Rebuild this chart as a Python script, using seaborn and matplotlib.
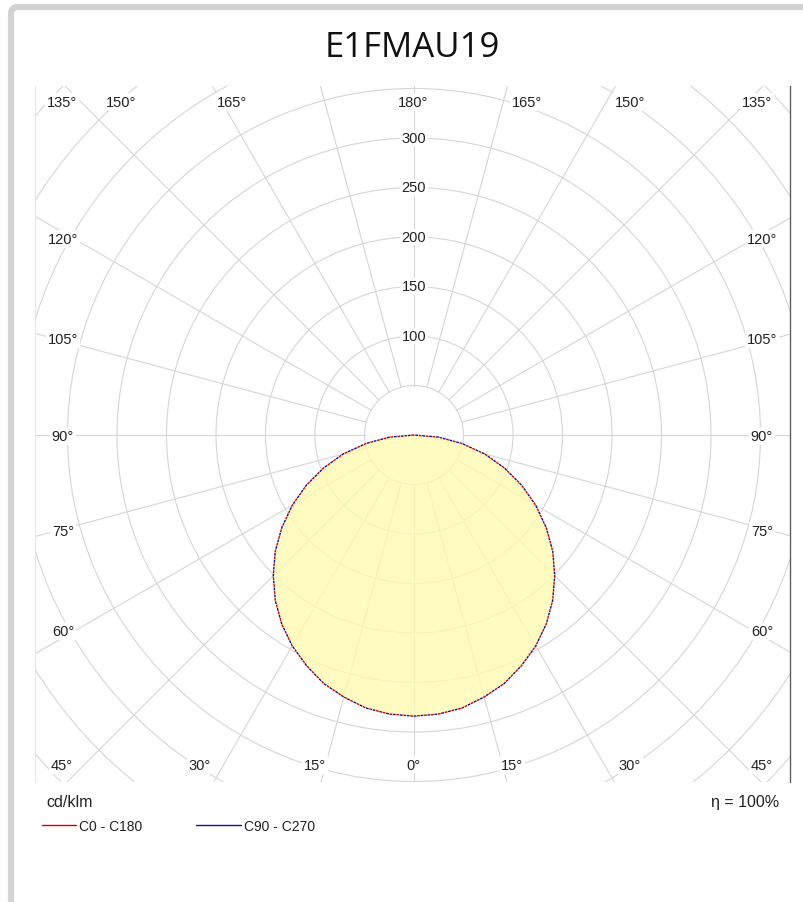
import numpy as np
import pandas as pd
import matplotlib
matplotlib.use("Agg")
import matplotlib.pyplot as plt
from matplotlib.patches import Circle, FancyBboxPatch
from matplotlib.lines import Line2D
import seaborn as sns

# ---------------- data ----------------
title = "E1FMAU19"
gamma_deg = [0, 5, 10, 15, 20, 25, 30, 35, 40, 45, 50, 55, 60, 65, 70, 75, 80, 85, 90]
c0_c180 = [284, 283, 280, 274, 267, 257, 246, 233, 218, 201, 183, 163, 142, 120, 97, 74, 49, 25, 0]
c90_c270 = [284, 283, 280, 274, 267, 257, 246, 233, 218, 201, 183, 163, 142, 120, 97, 74, 49, 25, 0]
ring_values = [50, 100, 150, 200, 250, 300, 350, 400, 450, 500, 550]
ring_labels = [100, 150, 200, 250, 300]
top_labels = ["135°", "150°", "165°", "180°", "165°", "150°", "135°"]
bottom_labels = ["45°", "30°", "15°", "0°", "15°", "30°", "45°"]
side_labels = ["120°", "105°", "90°", "75°", "60°"]
unit_label = "cd/klm"
eff_label = "η = 100%"
series_names = ["C0 - C180", "C90 - C270"]

# ---------------- layout ----------------
W, H = 804, 903
sns.set_theme(style="white")
plt.rcParams["font.family"] = ["Liberation Sans", "DejaVu Sans"]

fig = plt.figure(figsize=(W / 100, H / 100), dpi=100)
fig.patch.set_facecolor("white")

def fx(px):
    return px / W

def fy(py):
    return 1 - py / H

# card border (top and left grey bands)
card = FancyBboxPatch((fx(11), fy(960)), fx(900), fy(8) - fy(960),
                      boxstyle="round,pad=0,rounding_size=0.008",
                      transform=fig.transFigure, fill=False,
                      ec="#d3d3d3", lw=4.5, zorder=0)
fig.patches.append(card)

left_px, right_px, top_px, bottom_px = 35, 790, 87, 783
cx_px, cy_px = 414, 436
s = 0.99  # pixels per cd/klm
ax = fig.add_axes([fx(left_px), fy(bottom_px), (right_px - left_px) / W, (bottom_px - top_px) / H])
ax.set_xlim(-(cx_px - left_px) / s, (right_px - cx_px) / s)
ax.set_ylim(-(bottom_px - cy_px) / s, (cy_px - top_px) / s)
ax.set_xticks([])
ax.set_yticks([])
ax.set_facecolor("white")
for side in ["top", "bottom"]:
    ax.spines[side].set_visible(False)
ax.spines["left"].set_color("#e8e8e8")
ax.spines["left"].set_linewidth(0.8)
ax.spines["right"].set_color("#606060")
ax.spines["right"].set_linewidth(1.0)

gridc = "#d6d6d6"
for r in ring_values:
    ax.add_patch(Circle((0, 0), r, fill=False, ec=gridc, lw=0.8, zorder=1))
for a in range(0, 360, 15):
    t = np.deg2rad(a)
    ax.plot([50 * np.sin(t), 900 * np.sin(t)], [-50 * np.cos(t), -900 * np.cos(t)],
            color=gridc, lw=0.8, zorder=1)

# ---------------- distribution ----------------
g = np.deg2rad(np.array(gamma_deg, dtype=float))
rows = []
for name, vals in zip(series_names, [c0_c180, c90_c270]):
    v = np.array(vals, dtype=float)
    # left half (C180 / C270) then right half (C0 / C90)
    xs = np.concatenate([-(v * np.sin(g))[::-1], (v * np.sin(g))[1:]])
    ys = np.concatenate([-(v * np.cos(g))[::-1], -(v * np.cos(g))[1:]])
    for i, (xx, yy) in enumerate(zip(xs, ys)):
        rows.append({"series": name, "order": i, "x": xx, "y": yy})
df = pd.DataFrame(rows)

d0 = df[df.series == series_names[0]]
ax.fill(d0.x, d0.y, color=(1.0, 251 / 255, 178 / 255), alpha=0.8, lw=0, zorder=2)

sns.lineplot(data=d0, x="x", y="y", sort=False, estimator=None, ax=ax,
             color="#d40000", lw=1.0, dashes=False, zorder=3, legend=False)
ax.lines[-1].set_linestyle((0, (2, 3)))
d1 = df[df.series == series_names[1]]
sns.lineplot(data=d1, x="x", y="y", sort=False, estimator=None, ax=ax,
             color="#1010a0", lw=1.0, dashes=False, zorder=3, legend=False)
ax.lines[-1].set_linestyle((2.5, (2, 3)))
ax.set_xlabel("")
ax.set_ylabel("")

# radial value labels
for v in ring_labels:
    ax.text(0, v, str(v), ha="center", va="center", fontsize=10.5, color="#222222",
            bbox=dict(boxstyle="square,pad=0.1", fc="white", ec="none"), zorder=4)

# ---------------- angle labels ----------------
top_x = [62, 121, 232, 413, 527, 630, 757]
bot_x = [62, 200, 315, 413, 512, 630, 762]
side_y = [240, 340, 437, 532, 632]
lab_kw = dict(ha="center", va="center", fontsize=10.5, color="#222222",
              bbox=dict(boxstyle="square,pad=0.15", fc="white", ec="none"))
for t, x in zip(top_labels, top_x):
    fig.text(fx(x), fy(103), t, **lab_kw)
for t, x in zip(bottom_labels, bot_x):
    fig.text(fx(x), fy(766), t, **lab_kw)
for t, y in zip(side_labels, side_y):
    fig.text(fx(63), fy(y), t, **lab_kw)
    fig.text(fx(762), fy(y), t, **lab_kw)

# ---------------- title & footer ----------------
fig.text(fx(412), fy(48), title, ha="center", va="center", fontsize=25,
         family=["Open Sans", "DejaVu Sans"], color="#111111")
fig.text(fx(46), fy(803), unit_label, ha="left", va="center", fontsize=11.5, color="#222222")
fig.text(fx(779), fy(803), eff_label, ha="right", va="center", fontsize=11.5, color="#222222")

fig.lines.append(Line2D([fx(42), fx(76)], [fy(826), fy(826)], transform=fig.transFigure,
                        color="#d40000", lw=1.0))
fig.text(fx(79), fy(827), series_names[0], ha="left", va="center", fontsize=10, color="#222222")
fig.lines.append(Line2D([fx(196), fx(241)], [fy(826), fy(826)], transform=fig.transFigure,
                        color="#1010a0", lw=1.0))
fig.text(fx(244), fy(827), series_names[1], ha="left", va="center", fontsize=10, color="#222222")

fig.savefig("out.png", dpi=100)
